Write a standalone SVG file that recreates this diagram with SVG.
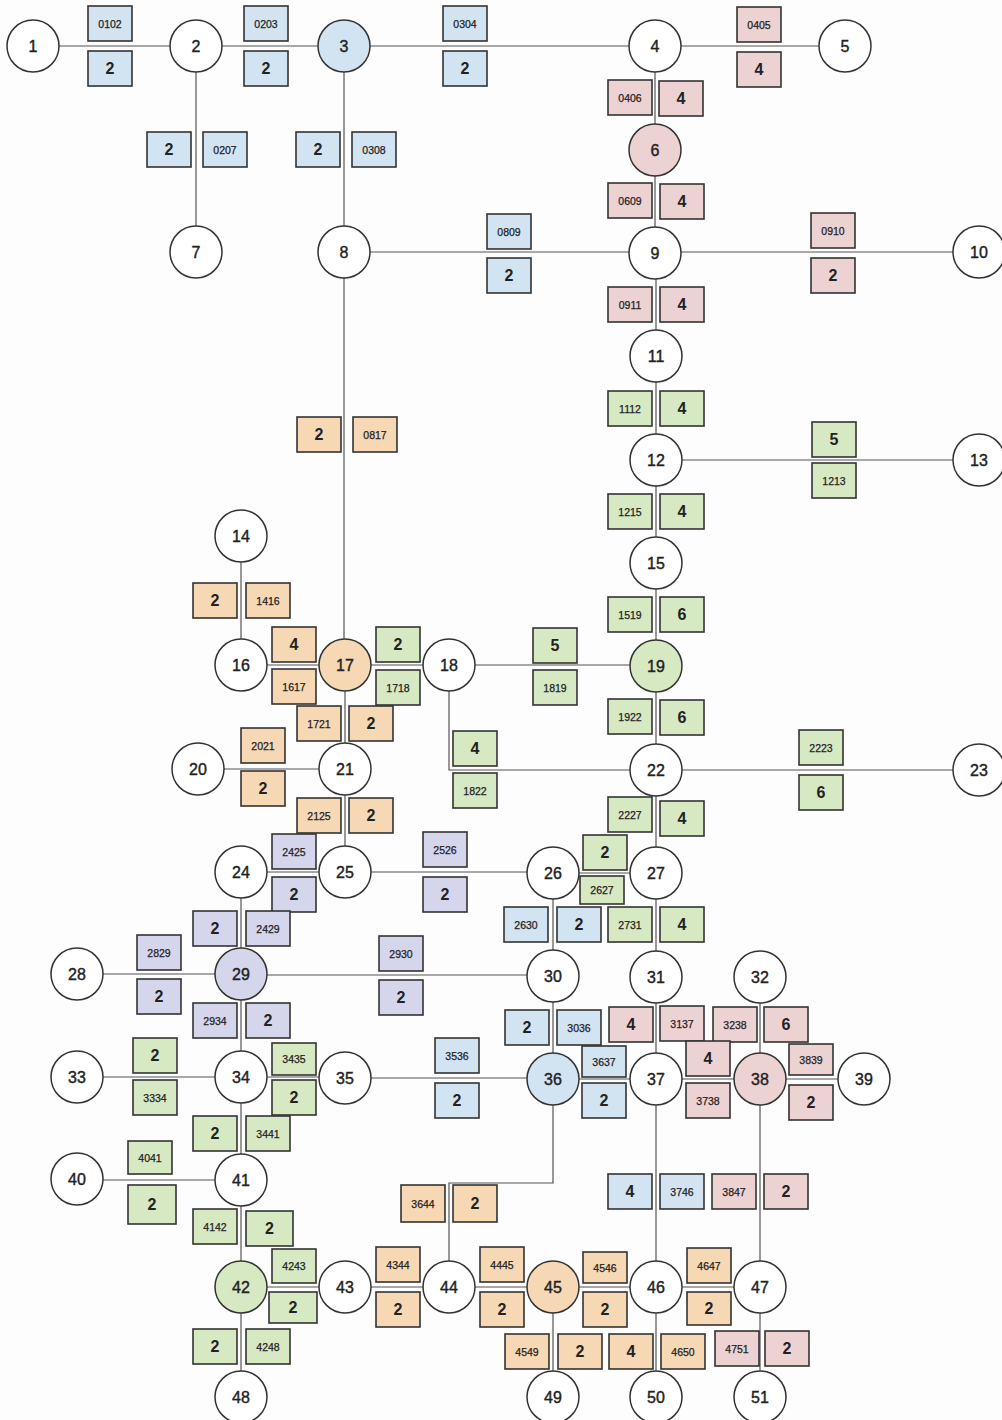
<svg xmlns="http://www.w3.org/2000/svg" width="1002" height="1420" viewBox="0 0 1002 1420">
<style>
.bg{fill:#fdfdfd}
.e{fill:none;stroke:#555;stroke-width:1.2}
.n{stroke:#333;stroke-width:1.5;fill:#fff}
.bx{stroke:#333;stroke-width:1.6}
.b{fill:#d2e4f1}.p{fill:#ecd2d3}.o{fill:#f6d8b4}.g{fill:#d6e9c3}.v{fill:#d5d5ec}
text{font-family:"Liberation Sans",Arial,sans-serif;fill:#222;text-anchor:middle;dominant-baseline:central}
.nl{font-size:16px;stroke:#222;stroke-width:0.4}
.d{font-size:16px;font-weight:bold}
.c{font-size:10.5px;stroke:#222;stroke-width:0.25}
</style>
<rect class="bg" x="0" y="0" width="1002" height="1420"/>
<g id="connectors">
<path class="e" d="M59,46H170"/>
<path class="e" d="M222,46H318"/>
<path class="e" d="M370,46H629"/>
<path class="e" d="M681,46H819"/>
<path class="e" d="M196,72V226"/>
<path class="e" d="M344,72V226"/>
<path class="e" d="M655,72V124"/>
<path class="e" d="M655,176V227"/>
<path class="e" d="M370,252H629"/>
<path class="e" d="M681,252H953"/>
<path class="e" d="M656,279V330"/>
<path class="e" d="M656,382V434"/>
<path class="e" d="M682,460H953"/>
<path class="e" d="M656,486V537"/>
<path class="e" d="M656,589V640"/>
<path class="e" d="M344,278V639"/>
<path class="e" d="M241,562V639"/>
<path class="e" d="M267,665H319"/>
<path class="e" d="M371,665H423"/>
<path class="e" d="M475,665H630"/>
<path class="e" d="M656,692V744"/>
<path class="e" d="M345,691V743"/>
<path class="e" d="M224,769H319"/>
<path class="e" d="M449,691V770H630"/>
<path class="e" d="M682,770H953"/>
<path class="e" d="M656,796V847"/>
<path class="e" d="M345,795V846"/>
<path class="e" d="M267,872H319"/>
<path class="e" d="M371,872H527"/>
<path class="e" d="M579,873H630"/>
<path class="e" d="M241,898V948"/>
<path class="e" d="M553,899V950"/>
<path class="e" d="M656,899V951"/>
<path class="e" d="M103,974H215"/>
<path class="e" d="M267,975H527"/>
<path class="e" d="M241,1000V1051"/>
<path class="e" d="M553,1002V1053"/>
<path class="e" d="M656,1003V1053"/>
<path class="e" d="M760,1003V1053"/>
<path class="e" d="M103,1077H215"/>
<path class="e" d="M267,1077H319"/>
<path class="e" d="M371,1078H527"/>
<path class="e" d="M579,1079H630"/>
<path class="e" d="M682,1079H734"/>
<path class="e" d="M786,1079H838"/>
<path class="e" d="M241,1103V1154"/>
<path class="e" d="M103,1180H215"/>
<path class="e" d="M241,1206V1261"/>
<path class="e" d="M267,1287H319"/>
<path class="e" d="M241,1313V1371"/>
<path class="e" d="M371,1287H423"/>
<path class="e" d="M553,1105V1183H449V1261"/>
<path class="e" d="M475,1287H527"/>
<path class="e" d="M579,1287H630"/>
<path class="e" d="M682,1287H734"/>
<path class="e" d="M656,1105V1261"/>
<path class="e" d="M760,1105V1261"/>
<path class="e" d="M553,1313V1371"/>
<path class="e" d="M656,1313V1371"/>
<path class="e" d="M760,1313V1371"/>
</g>
<g id="edge-labels">
<rect class="bx b" x="88" y="6" width="44" height="35"/><text class="c" x="110" y="23.5">0102</text>
<rect class="bx b" x="88" y="51" width="44" height="35"/><text class="d" x="110" y="68.5">2</text>
<rect class="bx b" x="244" y="6" width="44" height="35"/><text class="c" x="266" y="23.5">0203</text>
<rect class="bx b" x="244" y="51" width="44" height="35"/><text class="d" x="266" y="68.5">2</text>
<rect class="bx b" x="443" y="6" width="44" height="35"/><text class="c" x="465" y="23.5">0304</text>
<rect class="bx b" x="443" y="51" width="44" height="35"/><text class="d" x="465" y="68.5">2</text>
<rect class="bx p" x="737" y="7" width="44" height="35"/><text class="c" x="759" y="24.5">0405</text>
<rect class="bx p" x="737" y="52" width="44" height="35"/><text class="d" x="759" y="69.5">4</text>
<rect class="bx b" x="147" y="132" width="44" height="35"/><text class="d" x="169" y="149.5">2</text>
<rect class="bx b" x="203" y="132" width="44" height="35"/><text class="c" x="225" y="149.5">0207</text>
<rect class="bx b" x="296" y="132" width="44" height="35"/><text class="d" x="318" y="149.5">2</text>
<rect class="bx b" x="352" y="132" width="44" height="35"/><text class="c" x="374" y="149.5">0308</text>
<rect class="bx p" x="608" y="80" width="44" height="35"/><text class="c" x="630" y="97.5">0406</text>
<rect class="bx p" x="659" y="81" width="44" height="35"/><text class="d" x="681" y="98.5">4</text>
<rect class="bx p" x="608" y="183" width="44" height="35"/><text class="c" x="630" y="200.5">0609</text>
<rect class="bx p" x="660" y="184" width="44" height="35"/><text class="d" x="682" y="201.5">4</text>
<rect class="bx b" x="487" y="214" width="44" height="35"/><text class="c" x="509" y="231.5">0809</text>
<rect class="bx b" x="487" y="258" width="44" height="35"/><text class="d" x="509" y="275.5">2</text>
<rect class="bx p" x="811" y="213" width="44" height="35"/><text class="c" x="833" y="230.5">0910</text>
<rect class="bx p" x="811" y="258" width="44" height="35"/><text class="d" x="833" y="275.5">2</text>
<rect class="bx p" x="608" y="287" width="44" height="35"/><text class="c" x="630" y="304.5">0911</text>
<rect class="bx p" x="660" y="287" width="44" height="35"/><text class="d" x="682" y="304.5">4</text>
<rect class="bx g" x="608" y="391" width="44" height="35"/><text class="c" x="630" y="408.5">1112</text>
<rect class="bx g" x="660" y="391" width="44" height="35"/><text class="d" x="682" y="408.5">4</text>
<rect class="bx g" x="812" y="422" width="44" height="35"/><text class="d" x="834" y="439.5">5</text>
<rect class="bx g" x="812" y="463" width="44" height="35"/><text class="c" x="834" y="480.5">1213</text>
<rect class="bx g" x="608" y="494" width="44" height="35"/><text class="c" x="630" y="511.5">1215</text>
<rect class="bx g" x="660" y="494" width="44" height="35"/><text class="d" x="682" y="511.5">4</text>
<rect class="bx g" x="608" y="597" width="44" height="35"/><text class="c" x="630" y="614.5">1519</text>
<rect class="bx g" x="660" y="597" width="44" height="35"/><text class="d" x="682" y="614.5">6</text>
<rect class="bx o" x="297" y="417" width="44" height="35"/><text class="d" x="319" y="434.5">2</text>
<rect class="bx o" x="353" y="417" width="44" height="35"/><text class="c" x="375" y="434.5">0817</text>
<rect class="bx o" x="193" y="583" width="44" height="35"/><text class="d" x="215" y="600.5">2</text>
<rect class="bx o" x="246" y="583" width="44" height="35"/><text class="c" x="268" y="600.5">1416</text>
<rect class="bx o" x="272" y="627" width="44" height="35"/><text class="d" x="294" y="644.5">4</text>
<rect class="bx o" x="272" y="669" width="44" height="35"/><text class="c" x="294" y="686.5">1617</text>
<rect class="bx g" x="376" y="627" width="44" height="35"/><text class="d" x="398" y="644.5">2</text>
<rect class="bx g" x="376" y="670" width="44" height="35"/><text class="c" x="398" y="687.5">1718</text>
<rect class="bx g" x="533" y="628" width="44" height="35"/><text class="d" x="555" y="645.5">5</text>
<rect class="bx g" x="533" y="670" width="44" height="35"/><text class="c" x="555" y="687.5">1819</text>
<rect class="bx g" x="608" y="699" width="44" height="35"/><text class="c" x="630" y="716.5">1922</text>
<rect class="bx g" x="660" y="700" width="44" height="35"/><text class="d" x="682" y="717.5">6</text>
<rect class="bx o" x="297" y="706" width="44" height="35"/><text class="c" x="319" y="723.5">1721</text>
<rect class="bx o" x="349" y="706" width="44" height="35"/><text class="d" x="371" y="723.5">2</text>
<rect class="bx o" x="241" y="728" width="44" height="35"/><text class="c" x="263" y="745.5">2021</text>
<rect class="bx o" x="241" y="771" width="44" height="35"/><text class="d" x="263" y="788.5">2</text>
<rect class="bx g" x="453" y="731" width="44" height="35"/><text class="d" x="475" y="748.5">4</text>
<rect class="bx g" x="453" y="773" width="44" height="35"/><text class="c" x="475" y="790.5">1822</text>
<rect class="bx g" x="799" y="730" width="44" height="35"/><text class="c" x="821" y="747.5">2223</text>
<rect class="bx g" x="799" y="775" width="44" height="35"/><text class="d" x="821" y="792.5">6</text>
<rect class="bx g" x="608" y="797" width="44" height="35"/><text class="c" x="630" y="814.5">2227</text>
<rect class="bx g" x="660" y="801" width="44" height="35"/><text class="d" x="682" y="818.5">4</text>
<rect class="bx o" x="297" y="798" width="44" height="35"/><text class="c" x="319" y="815.5">2125</text>
<rect class="bx o" x="349" y="798" width="44" height="35"/><text class="d" x="371" y="815.5">2</text>
<rect class="bx v" x="272" y="834" width="44" height="35"/><text class="c" x="294" y="851.5">2425</text>
<rect class="bx v" x="272" y="877" width="44" height="35"/><text class="d" x="294" y="894.5">2</text>
<rect class="bx v" x="423" y="832" width="44" height="35"/><text class="c" x="445" y="849.5">2526</text>
<rect class="bx v" x="423" y="877" width="44" height="35"/><text class="d" x="445" y="894.5">2</text>
<rect class="bx g" x="583" y="835" width="44" height="35"/><text class="d" x="605" y="852.5">2</text>
<rect class="bx g" x="580" y="876" width="44" height="28"/><text class="c" x="602" y="890">2627</text>
<rect class="bx v" x="193" y="911" width="44" height="35"/><text class="d" x="215" y="928.5">2</text>
<rect class="bx v" x="246" y="911" width="44" height="35"/><text class="c" x="268" y="928.5">2429</text>
<rect class="bx b" x="504" y="907" width="44" height="35"/><text class="c" x="526" y="924.5">2630</text>
<rect class="bx b" x="557" y="907" width="44" height="35"/><text class="d" x="579" y="924.5">2</text>
<rect class="bx g" x="608" y="907" width="44" height="35"/><text class="c" x="630" y="924.5">2731</text>
<rect class="bx g" x="660" y="907" width="44" height="35"/><text class="d" x="682" y="924.5">4</text>
<rect class="bx v" x="137" y="935" width="44" height="35"/><text class="c" x="159" y="952.5">2829</text>
<rect class="bx v" x="137" y="979" width="44" height="35"/><text class="d" x="159" y="996.5">2</text>
<rect class="bx v" x="379" y="936" width="44" height="35"/><text class="c" x="401" y="953.5">2930</text>
<rect class="bx v" x="379" y="980" width="44" height="35"/><text class="d" x="401" y="997.5">2</text>
<rect class="bx v" x="193" y="1003" width="44" height="35"/><text class="c" x="215" y="1020.5">2934</text>
<rect class="bx v" x="246" y="1003" width="44" height="35"/><text class="d" x="268" y="1020.5">2</text>
<rect class="bx b" x="505" y="1010" width="44" height="35"/><text class="d" x="527" y="1027.5">2</text>
<rect class="bx b" x="557" y="1010" width="44" height="35"/><text class="c" x="579" y="1027.5">3036</text>
<rect class="bx p" x="609" y="1007" width="44" height="35"/><text class="d" x="631" y="1024.5">4</text>
<rect class="bx p" x="660" y="1006" width="44" height="35"/><text class="c" x="682" y="1023.5">3137</text>
<rect class="bx p" x="713" y="1007" width="44" height="35"/><text class="c" x="735" y="1024.5">3238</text>
<rect class="bx p" x="764" y="1007" width="44" height="35"/><text class="d" x="786" y="1024.5">6</text>
<rect class="bx g" x="133" y="1038" width="44" height="35"/><text class="d" x="155" y="1055.5">2</text>
<rect class="bx g" x="133" y="1080" width="44" height="35"/><text class="c" x="155" y="1097.5">3334</text>
<rect class="bx g" x="272" y="1043" width="44" height="32"/><text class="c" x="294" y="1059">3435</text>
<rect class="bx g" x="272" y="1080" width="44" height="35"/><text class="d" x="294" y="1097.5">2</text>
<rect class="bx b" x="435" y="1038" width="44" height="35"/><text class="c" x="457" y="1055.5">3536</text>
<rect class="bx b" x="435" y="1083" width="44" height="35"/><text class="d" x="457" y="1100.5">2</text>
<rect class="bx b" x="582" y="1046" width="44" height="31"/><text class="c" x="604" y="1061.5">3637</text>
<rect class="bx b" x="582" y="1083" width="44" height="35"/><text class="d" x="604" y="1100.5">2</text>
<rect class="bx p" x="686" y="1041" width="44" height="35"/><text class="d" x="708" y="1058.5">4</text>
<rect class="bx p" x="686" y="1083" width="44" height="35"/><text class="c" x="708" y="1100.5">3738</text>
<rect class="bx p" x="789" y="1044" width="44" height="31"/><text class="c" x="811" y="1059.5">3839</text>
<rect class="bx p" x="789" y="1085" width="44" height="35"/><text class="d" x="811" y="1102.5">2</text>
<rect class="bx g" x="193" y="1116" width="44" height="35"/><text class="d" x="215" y="1133.5">2</text>
<rect class="bx g" x="246" y="1116" width="44" height="35"/><text class="c" x="268" y="1133.5">3441</text>
<rect class="bx g" x="128" y="1141" width="44" height="33"/><text class="c" x="150" y="1157.5">4041</text>
<rect class="bx g" x="128" y="1185" width="48" height="39"/><text class="d" x="152" y="1204.5">2</text>
<rect class="bx g" x="193" y="1209" width="44" height="35"/><text class="c" x="215" y="1226.5">4142</text>
<rect class="bx g" x="246" y="1211" width="47" height="35"/><text class="d" x="269.5" y="1228.5">2</text>
<rect class="bx g" x="272" y="1249" width="44" height="34"/><text class="c" x="294" y="1266">4243</text>
<rect class="bx g" x="269" y="1292" width="48" height="31"/><text class="d" x="293" y="1307.5">2</text>
<rect class="bx g" x="193" y="1329" width="44" height="35"/><text class="d" x="215" y="1346.5">2</text>
<rect class="bx g" x="246" y="1329" width="44" height="35"/><text class="c" x="268" y="1346.5">4248</text>
<rect class="bx o" x="376" y="1247" width="44" height="35"/><text class="c" x="398" y="1264.5">4344</text>
<rect class="bx o" x="376" y="1292" width="44" height="35"/><text class="d" x="398" y="1309.5">2</text>
<rect class="bx o" x="401" y="1185" width="44" height="37"/><text class="c" x="423" y="1203.5">3644</text>
<rect class="bx o" x="453" y="1185" width="44" height="37"/><text class="d" x="475" y="1203.5">2</text>
<rect class="bx o" x="480" y="1247" width="44" height="35"/><text class="c" x="502" y="1264.5">4445</text>
<rect class="bx o" x="480" y="1292" width="44" height="35"/><text class="d" x="502" y="1309.5">2</text>
<rect class="bx o" x="583" y="1252" width="44" height="31"/><text class="c" x="605" y="1267.5">4546</text>
<rect class="bx o" x="583" y="1292" width="44" height="35"/><text class="d" x="605" y="1309.5">2</text>
<rect class="bx o" x="687" y="1248" width="44" height="35"/><text class="c" x="709" y="1265.5">4647</text>
<rect class="bx o" x="687" y="1292" width="44" height="33"/><text class="d" x="709" y="1308.5">2</text>
<rect class="bx b" x="608" y="1174" width="44" height="35"/><text class="d" x="630" y="1191.5">4</text>
<rect class="bx b" x="660" y="1174" width="44" height="35"/><text class="c" x="682" y="1191.5">3746</text>
<rect class="bx p" x="712" y="1174" width="44" height="35"/><text class="c" x="734" y="1191.5">3847</text>
<rect class="bx p" x="764" y="1174" width="44" height="35"/><text class="d" x="786" y="1191.5">2</text>
<rect class="bx o" x="505" y="1334" width="44" height="35"/><text class="c" x="527" y="1351.5">4549</text>
<rect class="bx o" x="558" y="1334" width="44" height="35"/><text class="d" x="580" y="1351.5">2</text>
<rect class="bx o" x="609" y="1334" width="44" height="35"/><text class="d" x="631" y="1351.5">4</text>
<rect class="bx o" x="661" y="1334" width="44" height="35"/><text class="c" x="683" y="1351.5">4650</text>
<rect class="bx p" x="715" y="1331" width="44" height="35"/><text class="c" x="737" y="1348.5">4751</text>
<rect class="bx p" x="765" y="1331" width="44" height="35"/><text class="d" x="787" y="1348.5">2</text>
</g>
<g id="n1"><circle class="n" cx="33" cy="46" r="26"/><text class="nl" x="33" y="46">1</text></g>
<g id="n2"><circle class="n" cx="196" cy="46" r="26"/><text class="nl" x="196" y="46">2</text></g>
<g id="n3"><circle class="n b" cx="344" cy="46" r="26"/><text class="nl" x="344" y="46">3</text></g>
<g id="n4"><circle class="n" cx="655" cy="46" r="26"/><text class="nl" x="655" y="46">4</text></g>
<g id="n5"><circle class="n" cx="845" cy="46" r="26"/><text class="nl" x="845" y="46">5</text></g>
<g id="n6"><circle class="n p" cx="655" cy="150" r="26"/><text class="nl" x="655" y="150">6</text></g>
<g id="n7"><circle class="n" cx="196" cy="252" r="26"/><text class="nl" x="196" y="252">7</text></g>
<g id="n8"><circle class="n" cx="344" cy="252" r="26"/><text class="nl" x="344" y="252">8</text></g>
<g id="n9"><circle class="n" cx="655" cy="253" r="26"/><text class="nl" x="655" y="253">9</text></g>
<g id="n10"><circle class="n" cx="979" cy="252" r="26"/><text class="nl" x="979" y="252">10</text></g>
<g id="n11"><circle class="n" cx="656" cy="356" r="26"/><text class="nl" x="656" y="356">11</text></g>
<g id="n12"><circle class="n" cx="656" cy="460" r="26"/><text class="nl" x="656" y="460">12</text></g>
<g id="n13"><circle class="n" cx="979" cy="460" r="26"/><text class="nl" x="979" y="460">13</text></g>
<g id="n14"><circle class="n" cx="241" cy="536" r="26"/><text class="nl" x="241" y="536">14</text></g>
<g id="n15"><circle class="n" cx="656" cy="563" r="26"/><text class="nl" x="656" y="563">15</text></g>
<g id="n16"><circle class="n" cx="241" cy="665" r="26"/><text class="nl" x="241" y="665">16</text></g>
<g id="n17"><circle class="n o" cx="345" cy="665" r="26"/><text class="nl" x="345" y="665">17</text></g>
<g id="n18"><circle class="n" cx="449" cy="665" r="26"/><text class="nl" x="449" y="665">18</text></g>
<g id="n19"><circle class="n g" cx="656" cy="666" r="26"/><text class="nl" x="656" y="666">19</text></g>
<g id="n20"><circle class="n" cx="198" cy="769" r="26"/><text class="nl" x="198" y="769">20</text></g>
<g id="n21"><circle class="n" cx="345" cy="769" r="26"/><text class="nl" x="345" y="769">21</text></g>
<g id="n22"><circle class="n" cx="656" cy="770" r="26"/><text class="nl" x="656" y="770">22</text></g>
<g id="n23"><circle class="n" cx="979" cy="770" r="26"/><text class="nl" x="979" y="770">23</text></g>
<g id="n24"><circle class="n" cx="241" cy="872" r="26"/><text class="nl" x="241" y="872">24</text></g>
<g id="n25"><circle class="n" cx="345" cy="872" r="26"/><text class="nl" x="345" y="872">25</text></g>
<g id="n26"><circle class="n" cx="553" cy="873" r="26"/><text class="nl" x="553" y="873">26</text></g>
<g id="n27"><circle class="n" cx="656" cy="873" r="26"/><text class="nl" x="656" y="873">27</text></g>
<g id="n28"><circle class="n" cx="77" cy="974" r="26"/><text class="nl" x="77" y="974">28</text></g>
<g id="n29"><circle class="n v" cx="241" cy="974" r="26"/><text class="nl" x="241" y="974">29</text></g>
<g id="n30"><circle class="n" cx="553" cy="976" r="26"/><text class="nl" x="553" y="976">30</text></g>
<g id="n31"><circle class="n" cx="656" cy="977" r="26"/><text class="nl" x="656" y="977">31</text></g>
<g id="n32"><circle class="n" cx="760" cy="977" r="26"/><text class="nl" x="760" y="977">32</text></g>
<g id="n33"><circle class="n" cx="77" cy="1077" r="26"/><text class="nl" x="77" y="1077">33</text></g>
<g id="n34"><circle class="n" cx="241" cy="1077" r="26"/><text class="nl" x="241" y="1077">34</text></g>
<g id="n35"><circle class="n" cx="345" cy="1078" r="26"/><text class="nl" x="345" y="1078">35</text></g>
<g id="n36"><circle class="n b" cx="553" cy="1079" r="26"/><text class="nl" x="553" y="1079">36</text></g>
<g id="n37"><circle class="n" cx="656" cy="1079" r="26"/><text class="nl" x="656" y="1079">37</text></g>
<g id="n38"><circle class="n p" cx="760" cy="1079" r="26"/><text class="nl" x="760" y="1079">38</text></g>
<g id="n39"><circle class="n" cx="864" cy="1079" r="26"/><text class="nl" x="864" y="1079">39</text></g>
<g id="n40"><circle class="n" cx="77" cy="1179" r="26"/><text class="nl" x="77" y="1179">40</text></g>
<g id="n41"><circle class="n" cx="241" cy="1180" r="26"/><text class="nl" x="241" y="1180">41</text></g>
<g id="n42"><circle class="n g" cx="241" cy="1287" r="26"/><text class="nl" x="241" y="1287">42</text></g>
<g id="n43"><circle class="n" cx="345" cy="1287" r="26"/><text class="nl" x="345" y="1287">43</text></g>
<g id="n44"><circle class="n" cx="449" cy="1287" r="26"/><text class="nl" x="449" y="1287">44</text></g>
<g id="n45"><circle class="n o" cx="553" cy="1287" r="26"/><text class="nl" x="553" y="1287">45</text></g>
<g id="n46"><circle class="n" cx="656" cy="1287" r="26"/><text class="nl" x="656" y="1287">46</text></g>
<g id="n47"><circle class="n" cx="760" cy="1287" r="26"/><text class="nl" x="760" y="1287">47</text></g>
<g id="n48"><circle class="n" cx="241" cy="1397" r="26"/><text class="nl" x="241" y="1397">48</text></g>
<g id="n49"><circle class="n" cx="553" cy="1397" r="26"/><text class="nl" x="553" y="1397">49</text></g>
<g id="n50"><circle class="n" cx="656" cy="1397" r="26"/><text class="nl" x="656" y="1397">50</text></g>
<g id="n51"><circle class="n" cx="760" cy="1397" r="26"/><text class="nl" x="760" y="1397">51</text></g>
</svg>
